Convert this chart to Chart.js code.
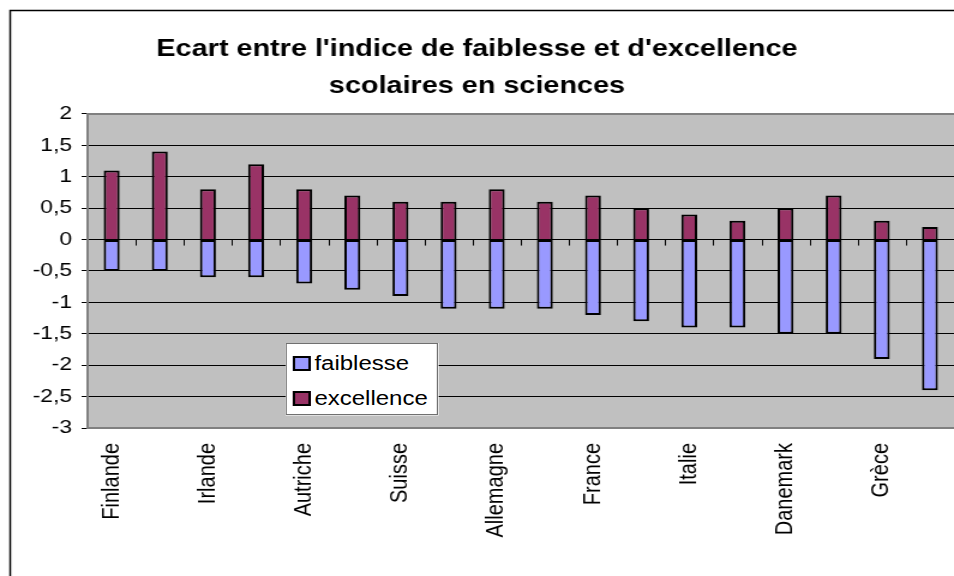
<!DOCTYPE html>
<html>
<head>
<meta charset="utf-8">
<script src="https://cdn.jsdelivr.net/npm/chart.js@4/dist/chart.umd.min.js"></script>
<style>
  html, body { margin: 0; padding: 0; background: #fff; overflow: hidden; }
  /* the original picture is stretched horizontally, so draw narrower and widen it */
  #wrap { position: relative; width: 795px; height: 576px; transform: scaleX(1.2); transform-origin: 0 0; }
  #chart { display: block; }
  #legend {
    position: absolute; left: 238px; top: 343px; width: 125px; height: 70px;
    background: #fff; border: 1px solid #707070;
    font-family: Arial, 'Liberation Sans', sans-serif; font-size: 20px; color: #000;
  }
  #legend div { position: absolute; left: 5px; height: 24px; line-height: 24px; white-space: nowrap; }
  #legend span.box {
    display: inline-block; width: 11px; height: 11px; border: 2px solid #000;
    vertical-align: -1px; margin-right: 3px;
  }
</style>
</head>
<body>
<div id="wrap">
  <canvas id="chart" width="795" height="576"></canvas>
  <div id="legend"></div>
</div>
<script>
const titleLines = ["Ecart entre l'indice de faiblesse et d'excellence", 'scolaires en sciences']
const countries = ['Finlande', 'Pays-Bas', 'Irlande', 'Royaume-Uni', 'Autriche', 'Belgique',
    'Suisse', 'Suède', 'Allemagne', 'Pologne', 'France', 'Espagne',
    'Italie', 'Norvège', 'Danemark', 'Luxembourg', 'Grèce', 'Portugal']
const faiblesse = [-0.5, -0.5, -0.6, -0.6, -0.7, -0.8, -0.9, -1.1, -1.1, -1.1, -1.2, -1.3,
    -1.4, -1.4, -1.5, -1.5, -1.9, -2.4]
const excellence = [1.1, 1.4, 0.8, 1.2, 0.8, 0.7, 0.6, 0.6, 0.8, 0.6, 0.7, 0.5,
    0.4, 0.3, 0.5, 0.7, 0.3, 0.2]
const seriesNames = ['faiblesse', 'excellence']
const seriesColors = ['#9999FF', '#993366']

const FONT = "Arial, 'Liberation Sans', sans-serif"

// white page, outer frame, grey plot area, zero-line ticks
const background = {
    id: 'background',
    beforeDraw(chart) {
        const {ctx, chartArea} = chart
        ctx.save()
        ctx.fillStyle = '#fff'
        ctx.fillRect(0, 0, chart.width, chart.height)
        ctx.strokeStyle = '#000'
        ctx.lineWidth = 1.5
        ctx.strokeRect(8.5, 10.5, chart.width + 20, chart.height + 20)
        ctx.fillStyle = '#C0C0C0'
        ctx.fillRect(chartArea.left, chartArea.top, chartArea.right - chartArea.left, chartArea.bottom - chartArea.top)
        ctx.restore()
    },
    beforeDatasetsDraw(chart) {
        const {ctx, scales} = chart
        const x = scales.x, y = scales.y
        const y0 = y.getPixelForValue(0)
        const w = x.width / countries.length
        ctx.save()
        ctx.strokeStyle = '#000'
        ctx.lineWidth = 1
        for (let i = 1; i < countries.length; i++) {
            const px = Math.round(x.left + i * w) + 0.5
            ctx.beginPath()
            ctx.moveTo(px, y0)
            ctx.lineTo(px, y0 + 6)
            ctx.stroke()
        }
        ctx.restore()
    },
    afterDatasetsDraw(chart) {
        const {ctx, chartArea} = chart
        ctx.save()
        ctx.strokeStyle = '#808080'
        ctx.lineWidth = 2
        ctx.beginPath()
        ctx.moveTo(chartArea.right + 2, chartArea.top)
        ctx.lineTo(chartArea.left, chartArea.top)
        ctx.lineTo(chartArea.left, chartArea.bottom)
        ctx.lineTo(chartArea.right + 2, chartArea.bottom)
        ctx.stroke()
        ctx.restore()
    }
}

const chart = new Chart(document.getElementById('chart'), {
    type: 'bar',
    data: {
        labels: countries,
        datasets: [
            {label: seriesNames[0], data: faiblesse, backgroundColor: seriesColors[0], borderSkipped: false},
            {label: seriesNames[1], data: excellence, backgroundColor: seriesColors[1], borderSkipped: 'start'}
        ].map(ds => Object.assign(ds, {
            borderColor: '#000', borderWidth: 2,
            categoryPercentage: 1, barPercentage: 0.33
        }))
    },
    options: {
        responsive: false,
        animation: false,
        layout: {padding: {left: 0, right: 0, top: 0, bottom: 0}},
        plugins: {
            legend: {display: false},
            tooltip: {enabled: false},
            title: {
                display: true,
                text: titleLines,
                color: '#000',
                font: {family: FONT, size: 24, weight: 'bold', lineHeight: 1.54},
                padding: {top: 31, bottom: 9}
            }
        },
        scales: {
            x: {
                stacked: true,
                grid: {display: false, drawTicks: false},
                border: {display: false},
                ticks: {
                    color: '#000',
                    font: {family: FONT, size: 20},
                    autoSkip: false,
                    minRotation: 90,
                    maxRotation: 90,
                    padding: 15,
                    callback: (v, i) => i % 2 === 0 ? countries[i] : ''
                },
                afterFit: s => {
                    s.height = 576 - 428
                    s.paddingLeft = 0
                    s.paddingRight = 0
                }
            },
            y: {
                stacked: true,
                min: -3,
                max: 2,
                grid: {color: '#000', lineWidth: 1, tickLength: 5, tickColor: '#000'},
                border: {display: false},
                ticks: {
                    stepSize: 0.5,
                    color: '#000',
                    font: {family: FONT, size: 19},
                    padding: 8,
                    callback: v => String(v).replace('.', ',')
                },
                afterFit: s => { s.width = 73 }
            }
        }
    },
    plugins: [background]
})

// html legend built from the datasets
const legendEl = document.getElementById('legend')
chart.data.datasets.forEach((ds, i) => {
    const row = document.createElement('div')
    row.style.top = (7 + i * 35) + 'px'
    row.innerHTML = '<span class="box" style="background:' + ds.backgroundColor + '"></span>' + ds.label
    legendEl.appendChild(row)
})
</script>
</body>
</html>
